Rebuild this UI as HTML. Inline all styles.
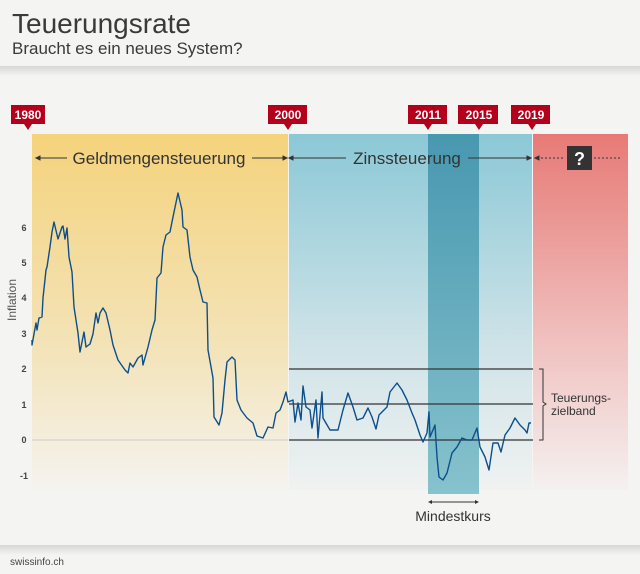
<!DOCTYPE html>
<html><head><meta charset="utf-8"><style>
body{margin:0;width:640px;height:574px;background:#f4f4f2;overflow:hidden;font-family:"Liberation Sans",sans-serif;}
</style></head><body>
<svg width="640" height="574" xmlns="http://www.w3.org/2000/svg" style="position:absolute;left:0;top:0">
<defs>
<linearGradient id="gy" x1="0" y1="0" x2="0" y2="1"><stop offset="0" stop-color="#f5d37c"/><stop offset="0.6" stop-color="#f3e3b8"/><stop offset="1" stop-color="#f4f3ef"/></linearGradient>
<linearGradient id="gb" x1="0" y1="0" x2="0" y2="1"><stop offset="0" stop-color="#8bc8d6"/><stop offset="0.6" stop-color="#cfe3e8"/><stop offset="1" stop-color="#f0f2f1"/></linearGradient>
<linearGradient id="gd" x1="0" y1="0" x2="0" y2="1"><stop offset="0" stop-color="#4898b0"/><stop offset="1" stop-color="#87c2cd"/></linearGradient>
<linearGradient id="gr" x1="0" y1="0" x2="0" y2="1"><stop offset="0" stop-color="#e77a76"/><stop offset="0.6" stop-color="#f0c3c1"/><stop offset="1" stop-color="#f4f1f0"/></linearGradient>
<linearGradient id="sh" x1="0" y1="0" x2="0" y2="1"><stop offset="0" stop-color="#000" stop-opacity="0.12"/><stop offset="1" stop-color="#000" stop-opacity="0"/></linearGradient>
</defs>
<rect x="0" y="0" width="640" height="66" fill="#f4f4f2"/>
<rect x="0" y="66" width="640" height="10" fill="url(#sh)"/>
<rect x="0" y="545" width="640" height="10" fill="url(#sh)"/>
<text x="12" y="33" font-size="28" fill="#3a3a3a">Teuerungsrate</text>
<text x="12" y="54" font-size="17" fill="#3a3a3a">Braucht es ein neues System?</text>

<rect x="32" y="134" width="256" height="356" fill="url(#gy)"/>
<rect x="289" y="134" width="243" height="356" fill="url(#gb)"/>
<rect x="428" y="134" width="51" height="360" fill="url(#gd)"/>
<rect x="533" y="134" width="95" height="356" fill="url(#gr)"/>

<g fill="#b3001b" font-size="12" font-weight="bold">
<rect x="11" y="105" width="34" height="19"/><polygon points="24,124 32,124 28,130"/>
<rect x="268" y="105" width="39" height="19"/><polygon points="284,124 292,124 288,130"/>
<rect x="408" y="105" width="39" height="19"/><polygon points="424,124 432,124 428,130"/>
<rect x="458" y="105" width="40" height="19"/><polygon points="475,124 483,124 479,130"/>
<rect x="511" y="105" width="39" height="19"/><polygon points="528,124 536,124 532,130"/>
</g>
<g fill="#fff" font-size="12" font-weight="bold" text-anchor="middle">
<text x="28" y="119">1980</text><text x="288" y="119">2000</text><text x="428" y="119">2011</text><text x="479" y="119">2015</text><text x="531" y="119">2019</text>
</g>

<g stroke="#333" stroke-width="1" fill="#333">
<line x1="38" y1="158" x2="67" y2="158"/><line x1="252" y1="158" x2="285" y2="158"/>
<polygon points="36,158 40,156 40,160"/><polygon points="287,158 283,156 283,160"/>
<line x1="291" y1="158" x2="346" y2="158"/><line x1="468" y1="158" x2="529" y2="158"/>
<polygon points="289,158 293,156 293,160"/><polygon points="531,158 527,156 527,160"/>
<line x1="537" y1="158" x2="565" y2="158" stroke-dasharray="2,2"/><line x1="594" y1="158" x2="622" y2="158" stroke-dasharray="2,2"/>
<polygon points="535,158 539,156 539,160"/>
</g>
<text x="159" y="164" font-size="17" fill="#333" text-anchor="middle">Geldmengensteuerung</text>
<text x="407" y="164" font-size="17" fill="#333" text-anchor="middle">Zinssteuerung</text>
<rect x="567" y="146" width="25" height="24" fill="#333"/>
<text x="579.5" y="165" font-size="18" font-weight="bold" fill="#fff" text-anchor="middle">?</text>

<g font-size="9" font-weight="bold" fill="#444" text-anchor="middle">
<text x="24" y="231">6</text><text x="24" y="266">5</text><text x="24" y="301">4</text><text x="24" y="337">3</text><text x="24" y="372">2</text><text x="24" y="408">1</text><text x="24" y="443">0</text><text x="24" y="479">-1</text>
</g>
<text transform="translate(16,300) rotate(-90)" font-size="12" fill="#555" text-anchor="middle">Inflation</text>

<line x1="32" y1="440" x2="288" y2="440" stroke="#ccc" stroke-width="1"/>
<g stroke="#333" stroke-width="1.2">
<line x1="289" y1="369" x2="533" y2="369"/><line x1="289" y1="404" x2="533" y2="404"/><line x1="289" y1="440" x2="533" y2="440"/>
</g>
<path d="M539,369 H543 V402 L546,404 L543,406 V440 H539" fill="none" stroke="#333" stroke-width="1"/>
<text x="551" y="402" font-size="12" fill="#333">Teuerungs-</text>
<text x="551" y="415" font-size="12" fill="#333">zielband</text>

<polyline fill="none" stroke="#0d4f8b" stroke-width="1.4" stroke-linejoin="round" points="32,340 32,345 36,323 37,330 39,318 42,317 43,298 46,270 47,267 50,247 52,232 54,222 58,239 62,227 63,226 65,239 67,228 69,257 72,272 74,307 78,333 80,352 84,332 86,347 90,344 93,334 96,313 98,323 100,313 103,308 106,313 110,330 113,345 118,360 125,370 128,373 130,363 133,367 138,358 142,355 143,365 148,347 152,330 155,320 157,278 161,273 163,247 166,235 170,232 173,217 178,193 182,210 183,227 187,230 190,257 193,270 197,277 200,290 203,302 207,303 208,350 213,378 214,417 219,425 222,413 225,380 227,362 232,357 235,360 237,400 241,410 247,418 253,423 257,436 263,438 268,427 273,428 276,413 280,410 283,402 286,392 288,402 293,400 295,422 298,403 301,420 303,386 306,407 310,410 312,428 316,400 318,438 322,392 323,418 330,430 338,430 343,410 348,393 353,407 357,420 363,418 368,408 372,417 376,429 379,415 387,407 390,392 397,383 402,390 407,400 412,413 415,420 420,435 423,442 427,433 429,412 430,437 435,425 437,457 439,477 443,480 447,473 452,453 457,447 462,438 467,440 472,440 477,428 480,447 485,457 489,470 493,443 498,443 501,452 505,435 510,428 515,418 520,425 525,430 527,433 529,423 531,423"/>

<line x1="430" y1="502" x2="477" y2="502" stroke="#333"/>
<polygon points="428,502 432,500 432,504" fill="#333"/><polygon points="479,502 475,500 475,504" fill="#333"/>
<text x="453" y="521" font-size="14" fill="#333" text-anchor="middle">Mindestkurs</text>
<text x="10" y="565" font-size="10" fill="#444">swissinfo.ch</text>
</svg>
</body></html>
